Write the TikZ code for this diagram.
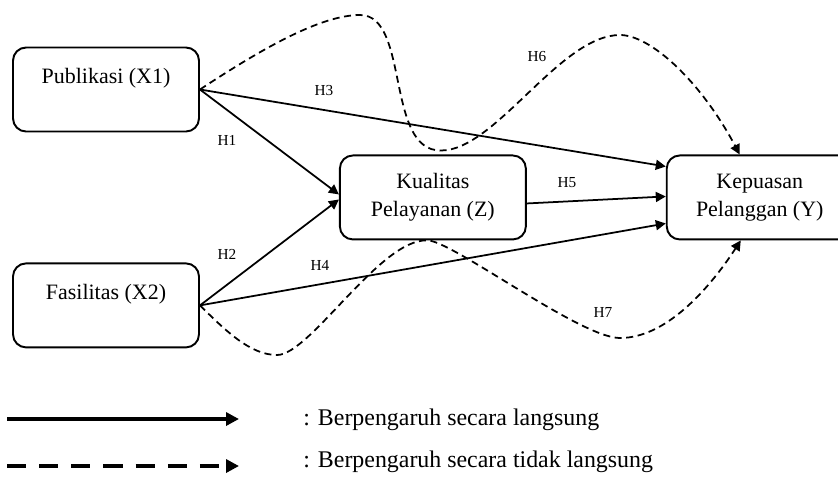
\documentclass[tikz,border=0pt]{standalone}
\usepackage{fontspec}
\setmainfont{Liberation Serif}
\usetikzlibrary{arrows.meta,positioning,calc}

\begin{document}
\begin{tikzpicture}[x=0.02cm,y=-0.02cm,
  box/.style={draw,line width=1.1pt,rounded corners=0.26cm,minimum width=3.72cm,minimum height=1.68cm,align=center,font=\fontsize{12.5}{15.9}\selectfont},
  hlabel/.style={font=\fontsize{8.7}{10}\selectfont,inner sep=0pt},
  direct/.style={-{Triangle[length=2mm,width=2mm]},line width=1pt},
  indirect/.style={-{Triangle[length=2mm,width=2mm]},line width=1pt,dash pattern=on 4pt off 2.6pt},
  keytext/.style={anchor=base west,inner sep=0pt,font=\fontsize{13.6}{16}\selectfont}]
  \clip (0,0) rectangle (838,478);
  % variables
  \node[box] (x1) at (106,89.5) {Publikasi (X1)\\\mbox{}};
  \node[box,below=2.6cm of x1] (x2) {Fasilitas (X2)\\\mbox{}};
  \coordinate (mid) at ($(x1.east)!.5!(x2.east)$);
  \node[box,right=2.78cm of mid] (z) {Kualitas\\Pelayanan (Z)};
  \node[box,right=2.78cm of z] (y) {Kepuasan\\Pelanggan (Y)};
  % direct effects
  \draw[direct] (x1.east) -- ([yshift=0.06cm]z.west);
  \draw[direct] (x2.east) -- ([yshift=-0.04cm]z.west);
  \draw[direct] (x1.east) -- ([yshift=0.62cm]y.west);
  \draw[direct] (x2.east) -- ([yshift=-0.52cm]y.west);
  \draw[direct] ([yshift=-0.12cm]z.east) -- ([yshift=0.02cm]y.west);
  % indirect effects through z
  \draw[indirect] (x1.east) .. controls (260,50) and (320,15) .. (360,15)
    .. controls (410,15) and (385,151) .. ([shift={(0.16cm,0.08cm)}]z.north)
    .. controls (495,151) and (560,35) .. (620,35)
    .. controls (650,35) and (700,80) .. ([xshift=-0.4cm]y.north);
  \draw[indirect] (x2.east) .. controls (225,330) and (250,355) .. (277,355)
    .. controls (310,355) and (380,239) .. ([xshift=-0.12cm]z.south)
    .. controls (450,239) and (580,338) .. (620,338)
    .. controls (670,338) and (715,280) .. ([xshift=-0.38cm]y.south);
  % hypothesis labels
  \node[hlabel] (h1) at (227,140) {H1};
  \node[hlabel] (h2) at (227,254) {H2};
  \node[hlabel] (h3) at (324,91) {H3};
  \node[hlabel] (h4) at (320,265) {H4};
  \node[hlabel] (h5) at (567,183) {H5};
  \node[hlabel] (h6) at (537,57) {H6};
  \node[hlabel] (h7) at (603,312) {H7};
  % legend
  \coordinate (solid0) at (7,419);
  \coordinate (solid1) at (239,419);
  \coordinate (dash0) at (7,466);
  \coordinate (dash1) at (239,466);
  \draw[-{Triangle[length=0.26cm,width=0.26cm]},line width=2.2pt] (solid0) -- (solid1);
  \draw[-{Triangle[length=0.26cm,width=0.26cm]},line width=2.2pt,dash pattern=on 10.9pt off 7.4pt] (dash0) -- (dash1);
  \node[keytext] (keydirect) at (303,425) {: Berpengaruh secara langsung};
  \node[keytext] (keyindirect) at (303,467) {: Berpengaruh secara tidak langsung};
\end{tikzpicture}
\end{document}
